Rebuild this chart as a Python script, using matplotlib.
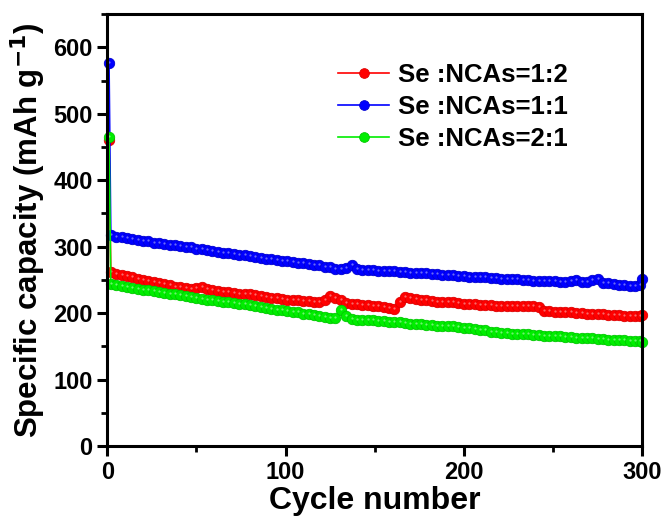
import matplotlib
matplotlib.use("Agg")
import matplotlib.pyplot as plt
from matplotlib.ticker import MultipleLocator

plt.rcParams["font.family"] = ["Liberation Sans", "DejaVu Sans"]
plt.rcParams["font.weight"] = "bold"

# cycle numbers: first cycle, then every third cycle, then the last one
cycles = [1] + list(range(2, 300, 3)) + [300]

cap_1_2 = [460,
           262, 259, 258, 256, 254, 252, 250, 249, 247, 245,
           244, 242, 240, 239, 237, 236, 238, 240, 236, 234,
           233, 232, 231, 230, 229, 228, 229, 227, 225, 224,
           223, 222, 221, 220, 219, 219, 218, 218, 217, 216,
           219, 225, 223, 219, 215, 214, 213, 212, 212, 211,
           210, 209, 208, 206, 216, 224, 222, 221, 220, 219,
           218, 217, 217, 216, 216, 215, 214, 213, 213, 212,
           212, 212, 211, 211, 211, 210, 210, 210, 210, 210,
           209, 203, 203, 202, 202, 201, 201, 200, 200, 199,
           198, 198, 198, 197, 197, 197, 196, 196, 196, 196,
           197]

cap_1_1 = [576,
           317, 315, 314, 313, 311, 310, 309, 308, 306, 305,
           304, 303, 302, 301, 300, 299, 297, 296, 295, 294,
           292, 291, 290, 289, 288, 287, 286, 285, 283, 282,
           281, 280, 279, 278, 277, 276, 275, 274, 273, 272,
           270, 269, 267, 266, 268, 272, 266, 265, 265, 265,
           264, 264, 263, 263, 262, 262, 261, 261, 260, 260,
           259, 259, 258, 258, 257, 256, 256, 255, 255, 254,
           254, 253, 253, 252, 252, 251, 251, 250, 250, 249,
           249, 249, 248, 248, 247, 247, 248, 250, 247, 247,
           250, 251, 246, 245, 244, 243, 242, 241, 241, 242,
           252]

cap_2_1 = [465,
           244, 242, 241, 239, 238, 236, 235, 234, 233, 231,
           230, 229, 228, 227, 226, 224, 222, 221, 220, 219,
           218, 217, 216, 215, 214, 213, 212, 210, 209, 208,
           206, 205, 204, 203, 202, 201, 199, 198, 197, 196,
           194, 193, 192, 204, 195, 191, 190, 190, 189, 189,
           188, 188, 187, 187, 186, 185, 184, 184, 183, 182,
           182, 181, 181, 180, 180, 179, 178, 177, 176, 175,
           174, 172, 171, 170, 170, 169, 169, 168, 168, 167,
           167, 166, 166, 165, 165, 164, 164, 163, 163, 162,
           162, 161, 161, 160, 160, 159, 159, 158, 158, 158,
           157]

labels = ["Se :NCAs=1:2", "Se :NCAs=1:1", "Se :NCAs=2:1"]
colors = ["#ff0000", "#0000ff", "#00ee00"]
edges = ["#dd0000", "#0000d0", "#00c800"]
shine = ["#ff9a9a", "#9a9aff", "#a0ffa0"]

fig = plt.figure(figsize=(6.62, 5.21), dpi=100)
ax = fig.add_axes([0.162, 0.144, 0.808, 0.829])

for y, lab, c, ec, sh in zip([cap_1_2, cap_1_1, cap_2_1], labels, colors, edges, shine):
    ax.plot(cycles, y, "-o", color=c, lw=1.2, ms=7.5, mfc=c, mec=ec, mew=0.6,
            label=lab, clip_on=False)
    # small highlight on each sphere-like marker
    ax.plot(cycles, [v + 1.5 for v in y], "o", color=sh, ms=1.6, mew=0,
            alpha=0.7, clip_on=False)

ax.set_xlim(0, 300)
ax.set_ylim(0, 650)
ax.xaxis.set_major_locator(MultipleLocator(100))
ax.xaxis.set_minor_locator(MultipleLocator(50))
ax.yaxis.set_major_locator(MultipleLocator(100))
ax.yaxis.set_minor_locator(MultipleLocator(50))

for s in ax.spines.values():
    s.set_linewidth(2.2)
ax.tick_params(which="major", direction="out", length=7, width=2.2,
               top=False, right=False, labelsize=17)
ax.tick_params(which="minor", direction="out", length=4, width=2.0,
               top=False, right=False)
for t in ax.get_xticklabels() + ax.get_yticklabels():
    t.set_fontweight("bold")

ax.set_xlabel("Cycle number", fontsize=23, fontweight="bold", labelpad=2)
ax.set_ylabel("Specific capacity (mAh g$^{\\mathbf{-1}}$)", fontsize=22.5,
              fontweight="bold", labelpad=4)

handles = ax.get_lines()[0::2]
leg = ax.legend(handles, labels, loc="upper left", bbox_to_anchor=(0.388, 0.94),
                frameon=False, fontsize=18.5, handlelength=2.0,
                handletextpad=0.35, labelspacing=0.3)
for h in leg.legend_handles:
    h.set_markersize(7)

fig.savefig("out.png", dpi=100)
